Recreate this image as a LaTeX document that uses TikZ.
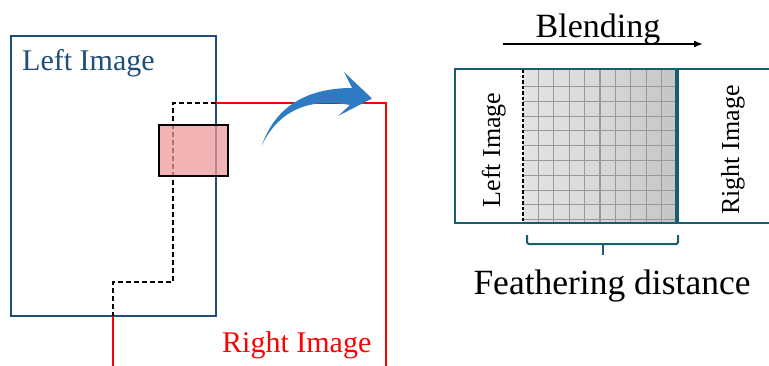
\documentclass[tikz,border=0pt]{standalone}
\usepackage{fontspec}
\setmainfont{Liberation Serif}
\usetikzlibrary{arrows.meta}
\definecolor{leftblue}{HTML}{1F4E79}
\definecolor{panelteal}{HTML}{15606C}
\definecolor{arrowblue}{HTML}{2E7BC4}
\definecolor{pinkfill}{HTML}{EC9A9A}
\pgfdeclarehorizontalshading{feather}{100bp}{color(0bp)=(black!7); color(50bp)=(black!15); color(78bp)=(black!24); color(92bp)=(black!34); color(100bp)=(black!50)}
\begin{document}
\begin{tikzpicture}[x=1pt,y=-1pt,
  lbl/.style={inner sep=0pt},
  gridline/.style={draw=black!40, line width=1.1pt},
  seam/.style={draw=black, line width=2pt, dash pattern=on 5pt off 3pt}]
\useasboundingbox (0,0) rectangle (769,365);
\clip (0,0) rectangle (769,365);
% ---------- left diagram ----------
\draw[leftblue, line width=2pt] (11,36) rectangle (216,316);
\coordinate (rt) at (216,103);
\coordinate (rr) at (386,103);
\coordinate (rb) at (386,370);
\coordinate (lb) at (113,370);
\coordinate (lt) at (113,316);
\draw[red, line width=2pt] (rt) -- (rr) -- (rb);
\draw[red, line width=2pt] (lt) -- (lb);
\draw[seam] (rt) -- (172.7,103) -- (172.7,281.7) -- (113,281.7) -- (lt);
\draw[black, line width=2.8pt, fill=pinkfill, fill opacity=0.75] (159,125) rectangle (228,176);
\node[lbl, text=leftblue, font=\fontsize{30}{36}\selectfont, anchor=base west] (lefttxt) at (22,70) {Left Image};
\node[lbl, text=red, font=\fontsize{30}{36}\selectfont, anchor=base west] (righttxt) at (222,352) {Right Image};
% curved arrow
\fill[arrowblue] (262,145) .. controls (275,108) and (305,88) .. (352,88) -- (344,72) -- (372,98.5) -- (338,116) -- (350,105) .. controls (312,98) and (280,108) .. (262,145) -- cycle;
% ---------- right diagram ----------
\shade[shading=feather] (523,69) rectangle (677,223);
\foreach \x in {1,...,9} \draw[gridline] ({523+\x*15.4},69) -- ({523+\x*15.4},223);
\foreach \k in {0,...,9} \draw[gridline] (523,{86.5+\k*14.8}) -- (677,{86.5+\k*14.8});
\draw[seam, line width=1.5pt, dash pattern=on 3.5pt off 2pt] (523,69) -- (523,223);
\draw[panelteal, line width=3.2pt] (677,69) -- (677,223);
\draw[panelteal, line width=2.6pt] (455,69) rectangle (775,223);
\node[lbl, rotate=90, font=\fontsize{26}{30}\selectfont, anchor=base] (leftimg) at (500,150) {Left Image};
\node[lbl, rotate=90, font=\fontsize{26}{30}\selectfont, anchor=base] (rightimg) at (739,150) {Right Image};
\node[lbl, font=\fontsize{34}{40}\selectfont, anchor=base] (blend) at (598,37) {Blending};
\coordinate (ba) at (503,44);
\coordinate (bb) at (703,44);
\draw[-{Latex[length=9pt,width=7pt]}, line width=1.5pt] (ba) -- (bb);
\coordinate (bl) at (527,235);
\coordinate (br) at (678,235);
\draw[panelteal, line width=2pt, rounded corners=1.5pt] (bl) -- (527,244) -- (678,244) -- (br);
\draw[panelteal, line width=2pt] (602.5,244) -- (602.5,255);
\node[lbl, font=\fontsize{35.5}{42}\selectfont, anchor=base] (feather) at (612,294) {Feathering distance};
\end{tikzpicture}
\end{document}
